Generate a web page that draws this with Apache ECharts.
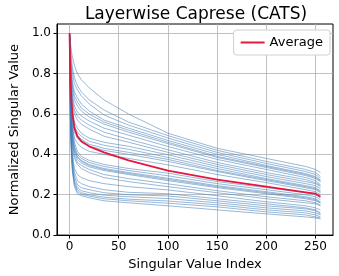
<!DOCTYPE html>
<html><head><meta charset="utf-8">
<script src="https://cdn.jsdelivr.net/npm/echarts@6/dist/echarts.min.js"></script>
<style>html,body{margin:0;padding:0;background:#fff}#c{width:339px;height:276px}</style>
</head><body><div id="c"></div>
<script>
// sample indices along the singular-value axis
const svIndex = [0, 1, 2, 3, 5, 8, 12, 20, 35, 60, 100, 150, 200, 240, 250, 255];
// per-layer normalized singular values
const layer01 = [1, .95, .91, .88, .84, .80, .77, .73, .67, .60, .505, .43, .38, .34, .325, .31];
const layer02 = [1, .92, .87, .83, .78, .74, .71, .67, .62, .56, .493, .42, .365, .325, .31, .29];
const layer03 = [1, .90, .84, .80, .75, .72, .69, .65, .595, .545, .481, .41, .355, .315, .30, .28];
const layer04 = [1, .88, .81, .76, .71, .68, .65, .615, .57, .53, .469, .40, .345, .305, .29, .27];
const layer05 = [1, .86, .79, .74, .69, .66, .63, .60, .56, .52, .46, .39, .34, .30, .285, .27];
const layer06 = [1, .85, .77, .72, .67, .64, .615, .585, .55, .51, .453, .385, .335, .295, .28, .265];
const layer07 = [1, .83, .75, .69, .64, .61, .59, .565, .53, .495, .439, .375, .325, .285, .27, .25];
const layer08 = [1, .81, .73, .67, .62, .59, .57, .545, .51, .475, .423, .36, .31, .275, .26, .245];
const layer09 = [1, .80, .71, .65, .60, .57, .55, .525, .49, .46, .41, .35, .30, .265, .255, .24];
const layer10 = [1, .78, .68, .62, .56, .53, .505, .48, .46, .44, .398, .34, .29, .255, .245, .23];
const layer11 = [1, .76, .66, .60, .54, .51, .49, .465, .445, .425, .385, .33, .28, .245, .235, .22];
const layer12 = [1, .75, .65, .58, .525, .495, .475, .45, .43, .41, .375, .32, .275, .24, .23, .215];
const layer13 = [1, .74, .63, .56, .51, .48, .46, .44, .42, .40, .365, .315, .27, .235, .225, .21];
const layer14 = [1, .72, .61, .54, .48, .455, .435, .415, .40, .38, .348, .30, .26, .225, .215, .20];
const layer15 = [1, .72, .60, .53, .46, .415, .39, .37, .35, .33, .307, .265, .235, .21, .20, .185];
const layer16 = [1, .70, .58, .51, .44, .40, .38, .36, .34, .32, .294, .255, .225, .20, .19, .175];
const layer17 = [1, .68, .56, .49, .43, .39, .37, .35, .33, .31, .282, .245, .215, .19, .18, .165];
const layer18 = [1, .66, .55, .48, .42, .385, .365, .345, .325, .305, .276, .24, .21, .185, .175, .16];
const layer19 = [1, .65, .54, .47, .41, .375, .357, .338, .32, .30, .27, .235, .205, .18, .17, .16];
const layer20 = [1, .64, .52, .45, .395, .36, .345, .325, .30, .28, .254, .22, .19, .17, .16, .15];
const layer21 = [1, .62, .50, .43, .38, .35, .33, .31, .285, .265, .24, .21, .18, .16, .155, .145];
const layer22 = [1, .62, .48, .40, .33, .30, .285, .27, .255, .24, .224, .195, .165, .145, .135, .125];
const layer23 = [1, .60, .46, .38, .31, .27, .255, .24, .225, .212, .205, .18, .155, .135, .125, .11];
const layer24 = [1, .58, .44, .36, .29, .25, .235, .225, .21, .20, .194, .17, .145, .13, .12, .105];
const layer25 = [1, .57, .42, .34, .27, .235, .22, .21, .198, .19, .181, .16, .135, .12, .11, .10];
const layer26 = [1, .56, .41, .33, .26, .225, .21, .20, .188, .178, .169, .15, .125, .11, .10, .09];
const layer27 = [1, .55, .40, .32, .25, .215, .203, .193, .18, .17, .158, .14, .115, .10, .09, .085];
const layer28 = [1, .54, .39, .31, .24, .205, .195, .185, .17, .16, .145, .125, .105, .09, .085, .08];
const average = [1, .76, .66, .60, .53, .49, .465, .44, .41, .37, .32, .275, .24, .212, .205, .19];
const xTicks = [0, 50, 100, 150, 200, 250];
const yTicks = [0, 0.2, 0.4, 0.6, 0.8, 1.0];

const layers = [layer01, layer02, layer03, layer04, layer05, layer06, layer07, layer08, layer09, layer10,
  layer11, layer12, layer13, layer14, layer15, layer16, layer17, layer18, layer19, layer20,
  layer21, layer22, layer23, layer24, layer25, layer26, layer27, layer28];

const pair = arr => arr.map((v, i) => [svIndex[i], v]);
const FONT = 'DejaVu Sans';
const series = layers.map((arr, i) => ({
  name: 'layer' + (i + 1), type: 'line', data: pair(arr), symbol: 'none', silent: true,
  lineStyle: { color: '#3f7ab5', width: 0.9, opacity: 0.6 }, z: 2
}));
series.push({
  name: 'Average', type: 'line', data: pair(average), symbol: 'none',
  lineStyle: { color: '#e6163f', width: 1.8 }, itemStyle: { color: '#e6163f' }, z: 5
});

const chart = echarts.init(document.getElementById('c'), null, { renderer: 'canvas' });
chart.setOption({
  animation: false,
  backgroundColor: '#fff',
  title: { text: 'Layerwise Caprese (CATS)', left: 191, top: 1, textAlign: 'center',
    textStyle: { fontFamily: FONT, fontSize: 17, fontWeight: 'normal', color: '#000' } },
  legend: { data: ['Average'], right: 9, top: 30, icon: 'rect', itemWidth: 24, itemHeight: 2, itemGap: 8,
    textStyle: { fontFamily: FONT, fontSize: 13, color: '#000' },
    borderColor: '#d0d0d0', borderWidth: 1, borderRadius: 3, padding: [6, 7, 6, 7], backgroundColor: '#fff' },
  grid: { left: 49, right: 6, top: 24, bottom: 40, show: true, borderColor: '#000', borderWidth: 1, containLabel: false },
  xAxis: { type: 'value', min: -12.75, max: 267.75,
    name: 'Singular Value Index', nameLocation: 'middle', nameGap: 20,
    nameTextStyle: { fontFamily: FONT, fontSize: 13, color: '#000' },
    axisLine: { show: true, onZero: false, lineStyle: { color: '#000', width: 1 } },
    axisTick: { show: true, length: 3.5, customValues: xTicks, lineStyle: { color: '#000' } },
    axisLabel: { customValues: xTicks, fontFamily: FONT, fontSize: 12, color: '#000', margin: 6 },
    splitLine: { show: true, lineStyle: { color: '#b0b0b0', width: 0.8 } } },
  yAxis: { type: 'value', min: 0, max: 1.046,
    name: 'Normalized Singular Value', nameLocation: 'middle', nameGap: 34,
    nameTextStyle: { fontFamily: FONT, fontSize: 13, color: '#000' },
    axisLine: { show: true, onZero: false, lineStyle: { color: '#000', width: 1 } },
    axisTick: { show: true, length: 3.5, customValues: yTicks, lineStyle: { color: '#000' } },
    axisLabel: { customValues: yTicks, fontFamily: FONT, fontSize: 12, color: '#000', margin: 6,
      formatter: v => v.toFixed(1) },
    splitLine: { show: true, lineStyle: { color: '#b0b0b0', width: 0.8 } } },
  series: series
});
</script></body></html>
